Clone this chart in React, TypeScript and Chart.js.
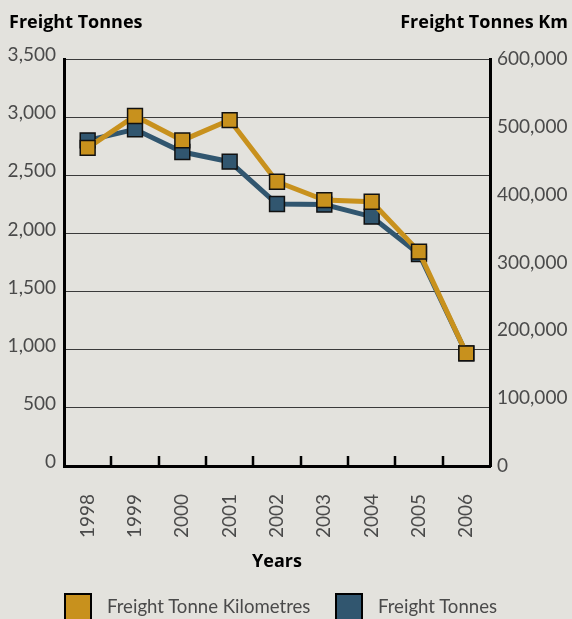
import React, { useEffect, useRef } from "react";
import { Chart, registerables } from "chart.js";

Chart.register(...registerables);

// Rail freight, 1998–2006
const years = ["1998", "1999", "2000", "2001", "2002", "2003", "2004", "2005", "2006"];
const freightTonnes = [2800, 2895, 2700, 2617, 2253, 2248, 2144, 1823, 968];
const freightTonneKm = [469000, 516000, 480000, 510000, 419000, 392000, 389500, 316000, 166000];

const tonnesMax = 3500;
const tonnesStep = 500;
const tonneKmMax = 600000;
const tonneKmStep = 100000;

const GOLD = "#C8911D";
const BLUE = "#31566F";
const BG = "#E3E2DD";
const TEXT = "#4a4a4a";
const FONT = "Lato, 'Open Sans', sans-serif";
const BOLD_FONT = "'Open Sans', Lato, sans-serif";

const fmt = (v: number | string) => Number(v).toLocaleString("en-US");

// Short tick marks pointing up into the plot, between the year categories
const innerTicks = {
  id: "innerTicks",
  afterDraw(chart: any) {
    const xs = chart.scales.x;
    const { ctx, chartArea } = chart;
    const n = xs.ticks.length;
    ctx.save();
    ctx.strokeStyle = "#000";
    ctx.lineWidth = 2.5;
    ctx.beginPath();
    for (let i = 0; i < n - 1; i++) {
      const px = Math.round((xs.getPixelForTick(i) + xs.getPixelForTick(i + 1)) / 2);
      ctx.moveTo(px, chartArea.bottom);
      ctx.lineTo(px, chartArea.bottom - 10);
    }
    ctx.stroke();
    ctx.restore();
  },
};

export default function App() {
  const canvasRef = useRef<HTMLCanvasElement | null>(null);

  useEffect(() => {
    if (!canvasRef.current) return;
    Chart.defaults.font.family = FONT;
    const chart = new Chart(canvasRef.current, {
      type: "line",
      data: {
        labels: years,
        datasets: [
          {
            label: "Freight Tonne Kilometres",
            data: freightTonneKm,
            yAxisID: "y1",
            borderColor: GOLD,
            backgroundColor: GOLD,
            borderWidth: 5,
            pointStyle: "rect",
            pointRadius: 10.5,
            pointBackgroundColor: GOLD,
            pointBorderColor: "#111",
            pointBorderWidth: 1.5,
            tension: 0,
          },
          {
            label: "Freight Tonnes",
            data: freightTonnes,
            yAxisID: "y",
            borderColor: BLUE,
            backgroundColor: BLUE,
            borderWidth: 5,
            pointStyle: "rect",
            pointRadius: 10.5,
            pointBackgroundColor: BLUE,
            pointBorderColor: "#111",
            pointBorderWidth: 1.5,
            tension: 0,
          },
        ],
      },
      options: {
        responsive: false,
        animation: false,
        devicePixelRatio: 1,
        layout: { padding: { top: 59, bottom: 43, left: 0, right: 0 } },
        plugins: {
          legend: { display: false },
          tooltip: { enabled: false },
        },
        scales: {
          x: {
            offset: true,
            grid: { drawOnChartArea: false, drawTicks: false },
            border: { color: "#000", width: 3 },
            ticks: {
              autoSkip: false,
              minRotation: 90,
              maxRotation: 90,
              padding: 28,
              color: TEXT,
              font: { size: 19 },
            },
            title: {
              display: true,
              text: "Years",
              color: "#000",
              font: { family: BOLD_FONT, size: 18, weight: "bold" },
              padding: { top: 0, bottom: 3 },
            },
            afterFit(s: any) {
              s.height = 110;
            },
          },
          y: {
            position: "left",
            min: 0,
            max: tonnesMax,
            grid: { color: "#3a3a3a", lineWidth: 1, drawTicks: false },
            border: { color: "#000", width: 3 },
            ticks: {
              stepSize: tonnesStep,
              padding: 8,
              labelOffset: -4,
              color: TEXT,
              font: { size: 19 },
              callback: (v: any) => fmt(v),
            },
            afterFit(s: any) {
              s.width = 64;
            },
          },
          y1: {
            position: "right",
            min: 0,
            max: tonneKmMax,
            grid: { drawOnChartArea: false, drawTicks: false },
            border: { color: "#000", width: 3 },
            ticks: {
              stepSize: tonneKmStep,
              padding: 7,
              color: TEXT,
              font: { size: 19 },
              callback: (v: any) => fmt(v),
            },
            afterFit(s: any) {
              s.width = 82;
            },
          },
        },
      },
      plugins: [innerTicks],
    } as any);
    return () => chart.destroy();
  }, []);

  const titleStyle: React.CSSProperties = {
    position: "absolute",
    top: 9,
    fontFamily: BOLD_FONT,
    fontWeight: 700,
    fontSize: 18,
    lineHeight: "24px",
    color: "#000",
    whiteSpace: "nowrap",
  };
  const boxStyle = (color: string, left: number): React.CSSProperties => ({
    position: "absolute",
    left,
    top: 593,
    width: 28,
    height: 28,
    boxSizing: "border-box",
    border: "2.5px solid #000",
    background: color,
  });
  const legendText = (left: number): React.CSSProperties => ({
    position: "absolute",
    left,
    top: 595,
    fontFamily: FONT,
    fontSize: 18.6,
    lineHeight: "22px",
    color: TEXT,
    whiteSpace: "nowrap",
  });

  return (
    <div
      style={{
        position: "fixed",
        left: 0,
        top: 0,
        width: 572,
        height: 619,
        overflow: "hidden",
        background: BG,
      }}
    >
      <canvas ref={canvasRef} width={572} height={619} style={{ display: "block" }} />
      <div style={{ ...titleStyle, left: 9 }}>Freight Tonnes</div>
      <div style={{ ...titleStyle, right: 4 }}>Freight Tonnes Km</div>
      <div style={boxStyle(GOLD, 64)} />
      <div style={legendText(107)}>Freight Tonne Kilometres</div>
      <div style={boxStyle(BLUE, 335)} />
      <div style={legendText(378)}>Freight Tonnes</div>
    </div>
  );
}
